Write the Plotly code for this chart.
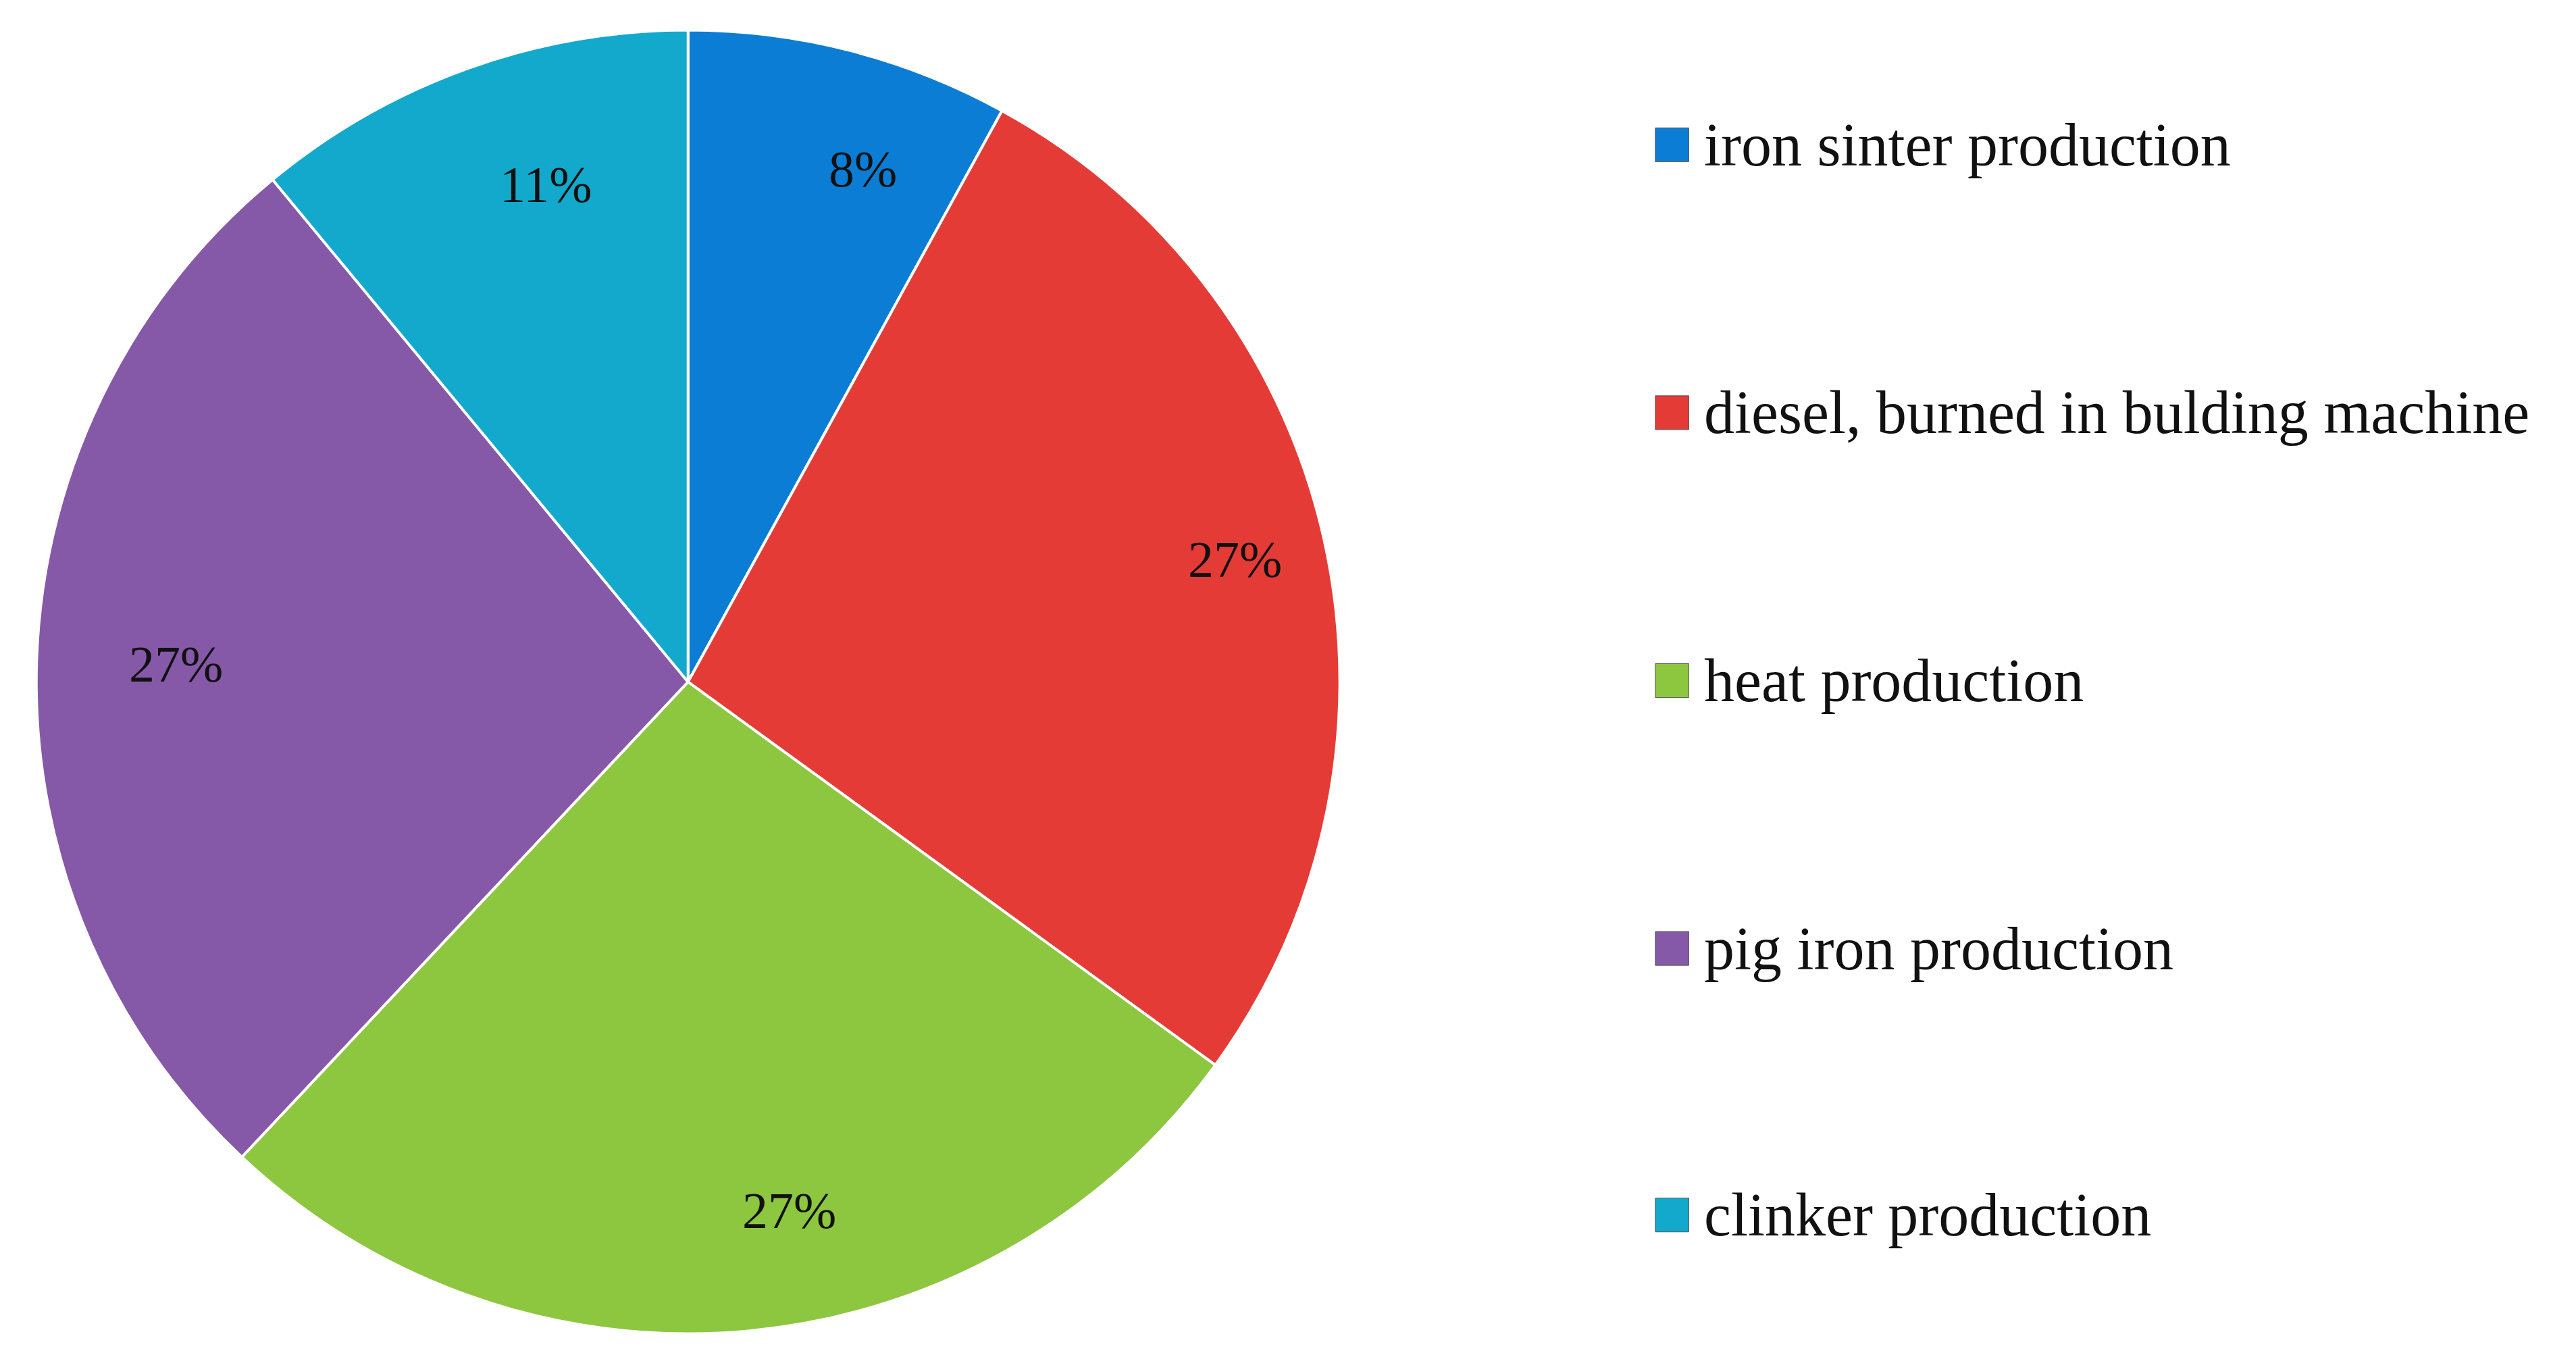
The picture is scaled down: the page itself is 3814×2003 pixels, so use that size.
import math
import plotly.graph_objects as go

labels = ["iron sinter production", "diesel, burned in bulding machine", "heat production",
          "pig iron production", "clinker production"]
values = [8, 27, 27, 27, 11]
colors = ["#0b7dd4", "#e53b37", "#8dc63f", "#8559a8", "#12a9cc"]

W, H = 3814, 2003
dom_x = [0.012, 0.518]
dom_y = [0.014, 0.986]
fig = go.Figure(go.Pie(
    labels=labels, values=values, sort=False, direction="clockwise", rotation=0,
    marker=dict(colors=colors, line=dict(color="white", width=4)),
    textinfo="none", hoverinfo="label+percent",
    domain=dict(x=dom_x, y=dom_y), showlegend=False,
))

# percentage labels placed near the rim, at each slice's mid-angle
cx = (dom_x[0] + dom_x[1]) / 2 * W
cy = (dom_y[0] + dom_y[1]) / 2 * H
r = min((dom_x[1] - dom_x[0]) * W, (dom_y[1] - dom_y[0]) * H) / 2
total = sum(values)
cum = 0
for v in values:
    mid = (cum + v / 2) / total * 2 * math.pi
    cum += v
    px = cx + 0.86 * r * math.sin(mid)
    py = cy + 0.86 * r * math.cos(mid)
    fig.add_annotation(text=f"{round(100 * v / total)}%", xref="paper", yref="paper",
                       x=px / W, y=py / H, showarrow=False,
                       font=dict(family="Liberation Serif", size=76, color="#111"))

ys = [0.897, 0.699, 0.501, 0.303, 0.106]
for lab, col, y in zip(labels, colors, ys):
    fig.add_shape(type="rect", xref="paper", yref="paper",
                  x0=0.6405, x1=0.6535, y0=y - 0.0125, y1=y + 0.0125,
                  fillcolor=col, line=dict(color="#555", width=1))
    fig.add_annotation(text=lab, xref="paper", yref="paper", x=0.659, y=y,
                       xanchor="left", yanchor="middle", showarrow=False,
                       font=dict(family="Liberation Serif", size=90, color="#111"))

fig.update_layout(width=W, height=H, margin=dict(l=0, r=0, t=0, b=0),
                  paper_bgcolor="white", plot_bgcolor="white")
fig.write_html("out.html")
